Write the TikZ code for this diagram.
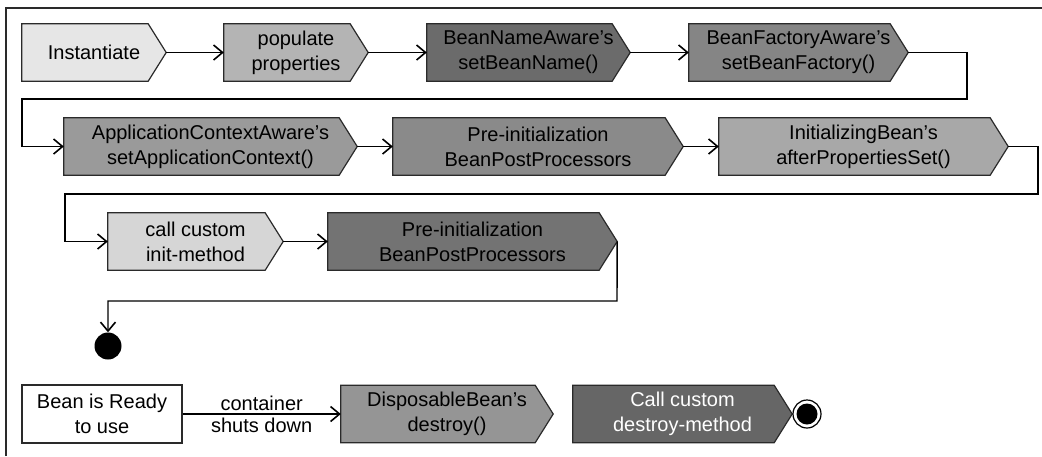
\documentclass[tikz,border=0pt]{standalone}
\usepackage{fontspec}
\setmainfont{Liberation Sans}
\usetikzlibrary{arrows.meta,calc}
\pgfdeclarelayer{bg}
\pgfsetlayers{bg,main}
\definecolor{cA}{HTML}{E6E6E6}
\definecolor{cB}{HTML}{B4B4B4}
\definecolor{cC}{HTML}{6B6B6B}
\definecolor{cD}{HTML}{858585}
\definecolor{cE}{HTML}{9A9A9A}
\definecolor{cF}{HTML}{8A8A8A}
\definecolor{cG}{HTML}{A8A8A8}
\definecolor{cH}{HTML}{D6D6D6}
\definecolor{cI}{HTML}{737373}
\definecolor{cJ}{HTML}{959595}
\definecolor{cK}{HTML}{666666}
\definecolor{lineC}{HTML}{2A2A2A}
\tikzset{
  txt/.style={font=\fontsize{20}{25}\selectfont, align=center},
  fbox/.style={txt, rectangle, inner sep=0pt, minimum height=57pt},
  boxline/.style={draw=lineC, line width=1.2pt, line join=miter},
  conn/.style={draw=black, line width=1.4pt, -{Straight Barb[length=9pt,width=15pt,line width=1.6pt]}},
  frameline/.style={draw=lineC, line width=1.3pt},
}
% name, x-left, x-tip, y-centre, fill, text colour, text
\newcommand\flowbox[7]{%
  \node[fbox, minimum width={#3-#2}, text=#6] (#1) at ({(#2+#3)/2},#4) {#7};
  \begin{pgfonlayer}{bg}
    \draw[boxline, fill=#5] (#1.north west) -- ([xshift=-18pt]#1.north east) -- (#1.east)
      -- ([xshift=-18pt]#1.south east) -- (#1.south west) -- cycle;
  \end{pgfonlayer}
}
\begin{document}
\begin{tikzpicture}[x=1pt,y=-1pt]
\useasboundingbox (0,0) rectangle (1042,456);
\draw[frameline] (6,456) -- (6,8) -- (1042,8);

% Row 1
\flowbox{ins}{22}{166}{52.5}{cA}{black}{Instantiate}
\flowbox{pop}{224}{368}{52.5}{cB}{black}{populate\\properties}
\flowbox{bna}{427}{630}{52.5}{cC}{black}{BeanNameAware’s\\setBeanName()}
\flowbox{bfa}{689}{908}{52.5}{cD}{black}{BeanFactoryAware’s\\setBeanFactory()}

% Row 2
\flowbox{acx}{64}{357}{146.5}{cE}{black}{ApplicationContextAware’s\\setApplicationContext()}
\flowbox{pre1}{393}{683}{146.5}{cF}{black}{Pre-initialization\\BeanPostProcessors}
\flowbox{ini}{719}{1008}{146.5}{cG}{black}{InitializingBean’s\\afterPropertiesSet()}

% Row 3
\flowbox{cci}{108}{283}{241.5}{cH}{black}{call custom\\init-method}
\flowbox{pre2}{328}{617}{241.5}{cI}{black}{Pre-initialization\\BeanPostProcessors}

% start circle
\node[circle, fill=black, minimum size=27pt, inner sep=0pt] (start) at (108,346) {};

% Row 4
\node[txt, rectangle, draw=lineC, line width=1.2pt, fill=white, minimum width=160pt, minimum height=58pt, inner sep=0pt] (rdy) at (102,414) {Bean is Ready\\to use};
\flowbox{dsp}{341}{553}{414}{cJ}{black}{DisposableBean’s\\destroy()}
\flowbox{cdm}{573}{792}{414}{cK}{white}{Call custom\\destroy-method}
\node[circle, draw=black, line width=1.2pt, fill=white, minimum size=28pt, inner sep=0pt] (fin) at (807,414) {};
\fill[black] (fin.center) circle (10.5pt);

% turning points
\coordinate (t1) at (967,99);
\coordinate (t2) at (22,99);
\coordinate (t3) at (1038,194);
\coordinate (t4) at (65,194);
\coordinate (t5) at (617,301);
\coordinate (t6) at (108,301);

% connectors
\draw[conn] (ins) -- (pop);
\draw[conn] (pop) -- (bna);
\draw[conn] (bna) -- (bfa);
\draw[conn] (bfa.east) -| (t1) -- (t2) |- (acx.west);
\draw[conn] (acx) -- (pre1);
\draw[conn] (pre1) -- (ini);
\draw[conn] (ini.east) -| (t3) -- (t4) |- (cci.west);
\draw[conn] (cci) -- (pre2);
\draw[conn] (pre2.east) -- (t5) -- (t6) -- (start.north);
\draw[conn] (rdy) -- (dsp)
  node[txt, midway, above, inner sep=3pt] {container}
  node[txt, midway, below, inner sep=3pt] {shuts down};
\end{tikzpicture}
\end{document}
